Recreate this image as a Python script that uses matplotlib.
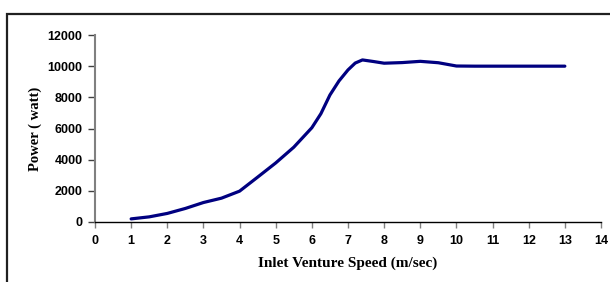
import matplotlib.pyplot as plt
from matplotlib.patches import Rectangle

# inlet speed (m/sec) and power (watt)
speed = [1, 1.5, 2, 2.5, 3, 3.5, 4, 4.5, 5, 5.5, 6, 6.25, 6.5, 6.75, 7, 7.2, 7.4,
         7.7, 8, 8.5, 9, 9.5, 10, 10.5, 11, 12, 13]
power = [200, 330, 550, 870, 1250, 1530, 1980, 2880, 3790, 4800, 6050, 6950, 8150,
         9050, 9760, 10200, 10400, 10300, 10190, 10230, 10310, 10220, 10010, 10000,
         10000, 10000, 10000]
xticks = list(range(0, 15))
yticks = [0, 2000, 4000, 6000, 8000, 10000, 12000]

fig = plt.figure(figsize=(6.1, 2.82), dpi=100)
ax = fig.add_axes([95 / 610, 1 - 222 / 282, 506 / 610, 187 / 282])

ax.plot(speed, power, color='#000080', lw=2.3, solid_joinstyle='round',
        solid_capstyle='round', clip_on=False)

ax.set_xlim(0, 14)
ax.set_ylim(0, 12000)
ax.set_xticks(xticks)
ax.set_yticks(yticks)
tick_font = dict(family='Liberation Sans', weight='bold', size=9)
ax.set_xticklabels([str(t) for t in xticks], **tick_font)
ax.set_yticklabels([str(t) for t in yticks], **tick_font)
ax.tick_params(axis='x', direction='out', length=4, width=1, color='#808080', pad=5)
ax.tick_params(axis='y', direction='out', length=5, width=1, color='#404040', pad=4)

ax.spines['top'].set_visible(False)
ax.spines['right'].set_visible(False)
ax.spines['left'].set_color('#808080')
ax.spines['left'].set_linewidth(1.5)
ax.spines['bottom'].set_color('black')
ax.spines['bottom'].set_linewidth(1)

ax.set_xlabel('Inlet Venture Speed (m/sec)', labelpad=7,
              family='Liberation Serif', weight='bold', size=11)
ax.set_ylabel('Power ( watt)', labelpad=4,
              family='Liberation Serif', weight='bold', size=10.5)

# outer chart frame (right and bottom edges fall outside the image)
fig.patches.append(Rectangle((7 / 610, -0.1), 1.0, 1.1 - 14 / 282,
                             transform=fig.transFigure, fill=False,
                             edgecolor='#202020', lw=1.6))

plt.savefig('out.png', dpi=100)
